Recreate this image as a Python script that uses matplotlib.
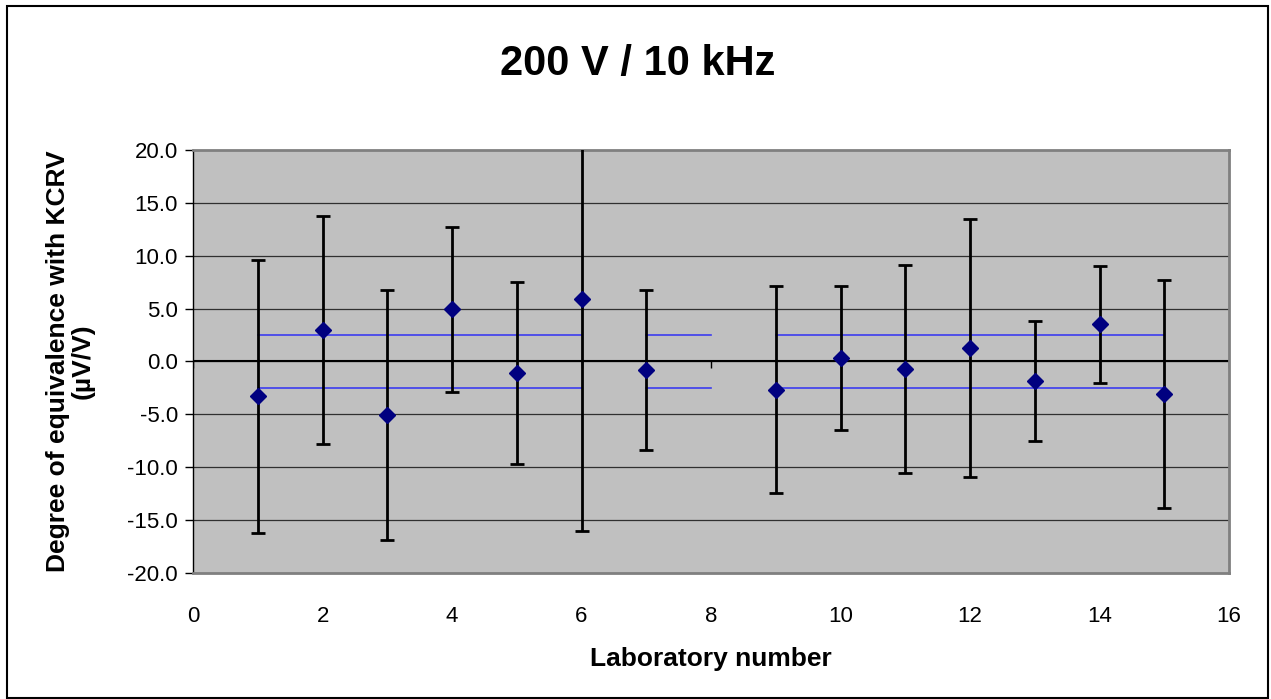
import matplotlib
matplotlib.use('Agg')
import matplotlib.pyplot as plt
from matplotlib.patches import Rectangle
import numpy as np

plt.rcParams['font.family'] = ['Liberation Sans', 'DejaVu Sans']

# Данные: номер лаборатории, степень эквивалентности и неопределённость
labs = [1, 2, 3, 4, 5, 6, 7, 9, 10, 11, 12, 13, 14, 15]
deviation = [-3.3, 2.95, -5.05, 4.95, -1.1, 5.95, -0.8,
             -2.65, 0.3, -0.7, 1.25, -1.85, 3.5, -3.1]
uncert = [12.9, 10.8, 11.8, 7.8, 8.6, 22.0, 7.6,
          9.8, 6.8, 9.8, 12.2, 5.7, 5.5, 10.8]

# Границы ±2.5 (синие линии), отрезками
band_segments = [(1, 6), (7, 8), (9, 15)]
band_level = 2.5

xticks = np.arange(0, 17, 2)
yticks = np.arange(-20, 21, 5)

fig = plt.figure(figsize=(12.71, 6.99), dpi=100)
ax = fig.add_axes([0.1519, 0.1803, 0.8151, 0.6051])
ax.set_facecolor('#C0C0C0')

# Рамка всей картинки
fig.patches.append(Rectangle((0.0055, 0.001), 0.9925, 0.9904, transform=fig.transFigure,
                             fill=False, edgecolor='black', linewidth=1.5))

# Сетка по оси Y
for yv in yticks[1:-1]:
    ax.axhline(yv, color='#303030', linewidth=0.9, zorder=1)

# Ось X через ноль и её засечки (вниз)
ax.axhline(0, color='black', linewidth=1.5, zorder=1.5)
ax.vlines(xticks, -0.65, 0, color='black', linewidth=1, zorder=1.5)

# Синие линии
for x0, x1 in band_segments:
    ax.plot([x0, x1], [band_level, band_level], color='#3C3CF0', linewidth=1.2, zorder=2)
    ax.plot([x0, x1], [-band_level, -band_level], color='#3C3CF0', linewidth=1.2, zorder=2)

# Точки с погрешностями
ax.errorbar(labs, deviation, yerr=uncert, fmt='none', ecolor='black',
            elinewidth=2.0, capsize=5, capthick=2.0, zorder=3)
ax.plot(labs, deviation, linestyle='none', marker='D', markersize=8.5,
        color='#000080', zorder=4)

ax.set_xlim(0, 16)
ax.set_ylim(-20, 20)
ax.set_xticks(xticks)
ax.set_yticks(yticks)
ax.set_yticklabels(['%.1f' % v for v in yticks])
ax.tick_params(axis='x', length=0, pad=24, labelsize=16)
ax.tick_params(axis='y', direction='out', length=6, width=1, pad=5, labelsize=16)

for side in ['top', 'right', 'bottom']:
    ax.spines[side].set_color('#808080')
    ax.spines[side].set_linewidth(2)
ax.spines['left'].set_color('black')
ax.spines['left'].set_linewidth(1)

fig.text(0.502, 0.893, '200 V / 10 kHz', fontsize=30, fontweight='bold',
         ha='center', va='baseline')
fig.text(0.5594, 0.047, 'Laboratory number', fontsize=19, fontweight='bold',
         ha='center', va='baseline')
ax.set_ylabel('Degree of equivalence with KCRV\n(µV/V)', fontsize=19,
              fontweight='bold', linespacing=1.05)
ax.yaxis.set_label_coords(-0.095, 0.5)

fig.savefig('out.png', dpi=100)
